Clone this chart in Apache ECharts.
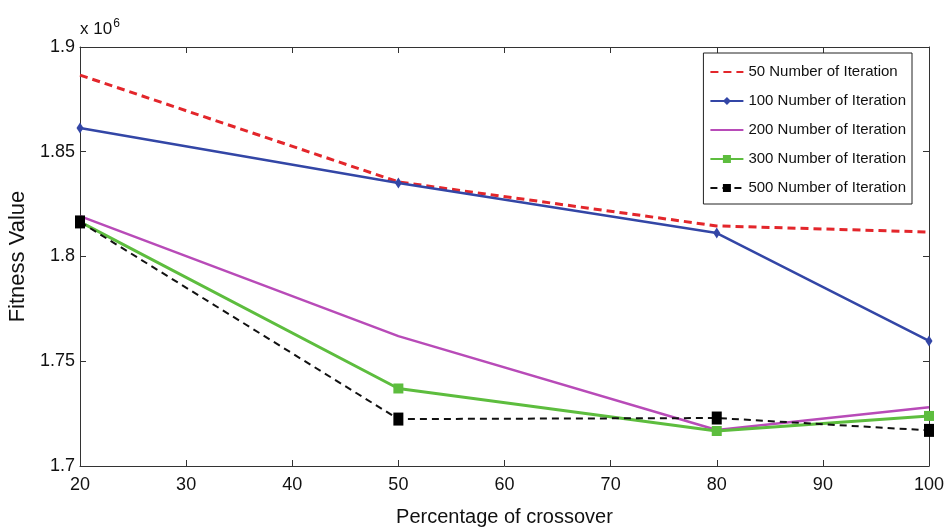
<!DOCTYPE html>
<html><head><meta charset="utf-8">
<script src="https://cdn.jsdelivr.net/npm/echarts@6/dist/echarts.min.js"></script>
<style>html,body{margin:0;padding:0;background:#fff}#c{width:949px;height:531px}</style>
</head><body><div id="c"></div>
<script>
const categories = [20, 50, 80, 100];
const iter50  = [1.8866, 1.8356, 1.8146, 1.8117];
const iter100 = [1.8613, 1.8351, 1.8112, 1.7597];
const iter200 = [1.8193, 1.7620, 1.7172, 1.7280];
const iter300 = [1.8165, 1.7370, 1.7167, 1.7239];
const iter500 = [1.8165, 1.7224, 1.7229, 1.7170];
const seriesNames = ['50 Number of Iteration','100 Number of Iteration','200 Number of Iteration','300 Number of Iteration','500 Number of Iteration'];
const xTicks = [20,30,40,50,60,70,80,90,100];
const yTicks = [1.7,1.75,1.8,1.85,1.9];

const F = 'Liberation Sans, Arial, sans-serif';
const pts = a => categories.map((x,i)=>[x,a[i]]);
const chart = echarts.init(document.getElementById('c'));
const axisCommon = {
  axisLine:{show:true,lineStyle:{color:'#333',width:1}},
  axisTick:{show:true,inside:true,length:6,lineStyle:{color:'#333'}},
  splitLine:{show:false}
};
chart.setOption({
  animation:false,
  grid:{left:80,right:20,top:47,bottom:65,outerBoundsMode:'none',containLabel:false},
  xAxis:[
    Object.assign({type:'value',min:20,max:100,interval:10,position:'bottom',
      axisLabel:{color:'#111',fontSize:18,fontFamily:F,margin:10},
      name:'Percentage of crossover',nameLocation:'middle',nameGap:41,
      nameTextStyle:{color:'#111',fontSize:20,fontFamily:F}},axisCommon),
    Object.assign({type:'value',min:20,max:100,interval:10,position:'top',axisLabel:{show:false}},axisCommon)
  ],
  yAxis:[
    Object.assign({type:'value',min:1.7,max:1.9,interval:0.05,position:'left',
      axisLabel:{color:'#111',fontSize:18,fontFamily:F,margin:5,
        formatter:v=>{const t=yTicks.find(k=>Math.abs(k-v)<1e-6);return t===undefined?'':String(t);}},
      name:'Fitness Value',nameLocation:'middle',nameGap:50,
      nameTextStyle:{color:'#111',fontSize:22,fontFamily:F}},axisCommon),
    Object.assign({type:'value',min:1.7,max:1.9,interval:0.05,position:'right',axisLabel:{show:false}},axisCommon)
  ],
  legend:{
    orient:'vertical',right:37,top:53,
    backgroundColor:'#fff',borderColor:'#222',borderWidth:1,
    padding:[10,6,7,6],itemGap:11,itemWidth:33,itemHeight:10,
    textStyle:{fontSize:15,fontFamily:F,color:'#111',lineHeight:18},
    data:[
      {name:seriesNames[0],itemStyle:{opacity:0}},
      {name:seriesNames[1]},
      {name:seriesNames[2],itemStyle:{opacity:0}},
      {name:seriesNames[3]},
      {name:seriesNames[4]}
    ]
  },
  graphic:[{type:'text',left:80,top:18,style:{
    text:'{b|x 10}{s|6}',rich:{b:{fontSize:17,fontFamily:F,fill:'#111'},s:{fontSize:12,fontFamily:F,fill:'#111',verticalAlign:'top',padding:[0,0,10,1]}}
  }}],
  series:[
    {name:seriesNames[0],type:'line',data:pts(iter50),symbol:'none',
      lineStyle:{color:'#e3262b',width:3,type:[8,5]},itemStyle:{color:'#e3262b'},z:2},
    {name:seriesNames[1],type:'line',data:pts(iter100),symbol:'diamond',symbolSize:[7,11],showSymbol:true,
      lineStyle:{color:'#3346a6',width:2.5},itemStyle:{color:'#3346a6'},z:3},
    {name:seriesNames[2],type:'line',data:pts(iter200),symbol:'none',
      lineStyle:{color:'#b84bb8',width:2.5},itemStyle:{color:'#b84bb8'},z:3},
    {name:seriesNames[3],type:'line',data:pts(iter300),symbol:'rect',symbolSize:10,
      lineStyle:{color:'#5dbd3e',width:3},itemStyle:{color:'#5dbd3e'},z:4},
    {name:seriesNames[4],type:'line',data:pts(iter500),symbol:'rect',symbolSize:[10,13],
      lineStyle:{color:'#111',width:2,type:[7,5]},itemStyle:{color:'#000'},z:5}
  ]
});
</script></body></html>
